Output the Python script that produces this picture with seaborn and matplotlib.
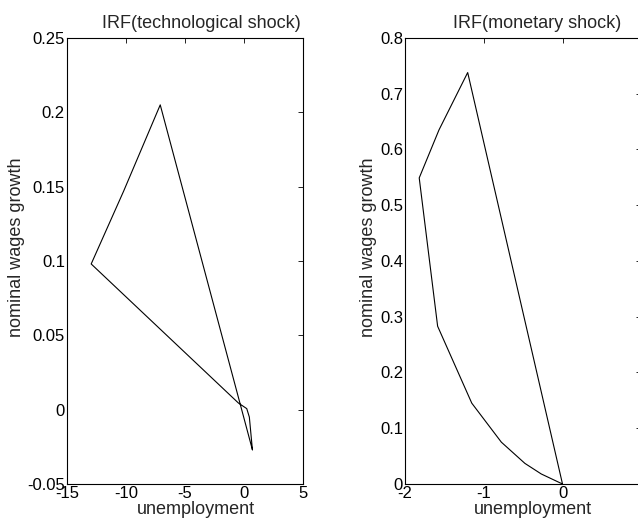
import numpy as np
import pandas as pd
import matplotlib
matplotlib.use('Agg')
import matplotlib.pyplot as plt
import seaborn as sns
from matplotlib.ticker import FuncFormatter

# IRF paths (unemployment, nominal wages growth)
tech_u = [0.71, -7.1, -10.2, -12.95, -0.48, 0.23, 0.45, 0.71]
tech_w = [-0.027, 0.205, 0.147, 0.098, 0.0045, 0.0007, -0.005, -0.027]

mon_u = [0.0, -1.205, -1.57, -1.821, -1.587, -1.153, -0.777, -0.478, -0.27, 0.0]
mon_w = [0.0, 0.738, 0.635, 0.549, 0.283, 0.145, 0.075, 0.037, 0.018, 0.0]

tech_xticks = [-15, -10, -5, 0, 5]
tech_yticks = [-0.05, 0, 0.05, 0.1, 0.15, 0.2, 0.25]
mon_xticks = [-2, -1, 0, 1]
mon_yticks = [0, 0.1, 0.2, 0.3, 0.4, 0.5, 0.6, 0.7, 0.8]

df_tech = pd.DataFrame({'u': tech_u, 'w': tech_w, 't': range(len(tech_u))})
df_mon = pd.DataFrame({'u': mon_u, 'w': mon_w, 't': range(len(mon_u))})

sns.set_theme(style='white')
plt.rcParams['font.family'] = ['Liberation Sans', 'DejaVu Sans']

fig = plt.figure(figsize=(6.38, 5.31), dpi=100)
ax1 = fig.add_axes([0.105, 0.0885, 0.370, 0.840])
ax2 = fig.add_axes([0.635, 0.0885, 0.370, 0.840])

fmt = FuncFormatter(lambda v, p: '%g' % round(v, 4))
# the right panel runs past the edge of the picture, its last x label is not seen
fmt_cut = FuncFormatter(lambda v, p: '' if v >= 1 else '%g' % round(v, 4))

panels = [
    (ax1, df_tech, tech_xticks, tech_yticks, 'IRF(technological shock)', 0.571, -0.178, 0.547, fmt),
    (ax2, df_mon, mon_xticks, mon_yticks, 'IRF(monetary shock)', 0.558, -0.12, 0.540, fmt_cut),
]

for ax, df, xt, yt, title, tx, ylx, xlx, xfmt in panels:
    sns.lineplot(data=df, x='u', y='w', sort=False, estimator=None,
                 color='black', linewidth=0.8, ax=ax)
    ax.set_xlim(xt[0], xt[-1])
    ax.set_ylim(yt[0], yt[-1])
    ax.set_xticks(xt)
    ax.set_yticks(yt)
    ax.xaxis.set_major_formatter(xfmt)
    ax.yaxis.set_major_formatter(fmt)
    ax.tick_params(direction='in', top=True, right=True, length=3.5, width=0.6,
                   labelsize=12, pad=1.5, colors='black')
    for s in ax.spines.values():
        s.set_visible(True)
        s.set_color('black')
        s.set_linewidth(0.8)
    ax.set_xlabel('unemployment', fontsize=13)
    ax.set_ylabel('nominal wages growth', fontsize=13)
    ax.xaxis.set_label_coords(xlx, -0.038)
    ax.yaxis.set_label_coords(ylx, 0.531)
    ax.set_title(title, fontsize=13, x=tx, pad=7)

fig.savefig('out.png', dpi=100)
